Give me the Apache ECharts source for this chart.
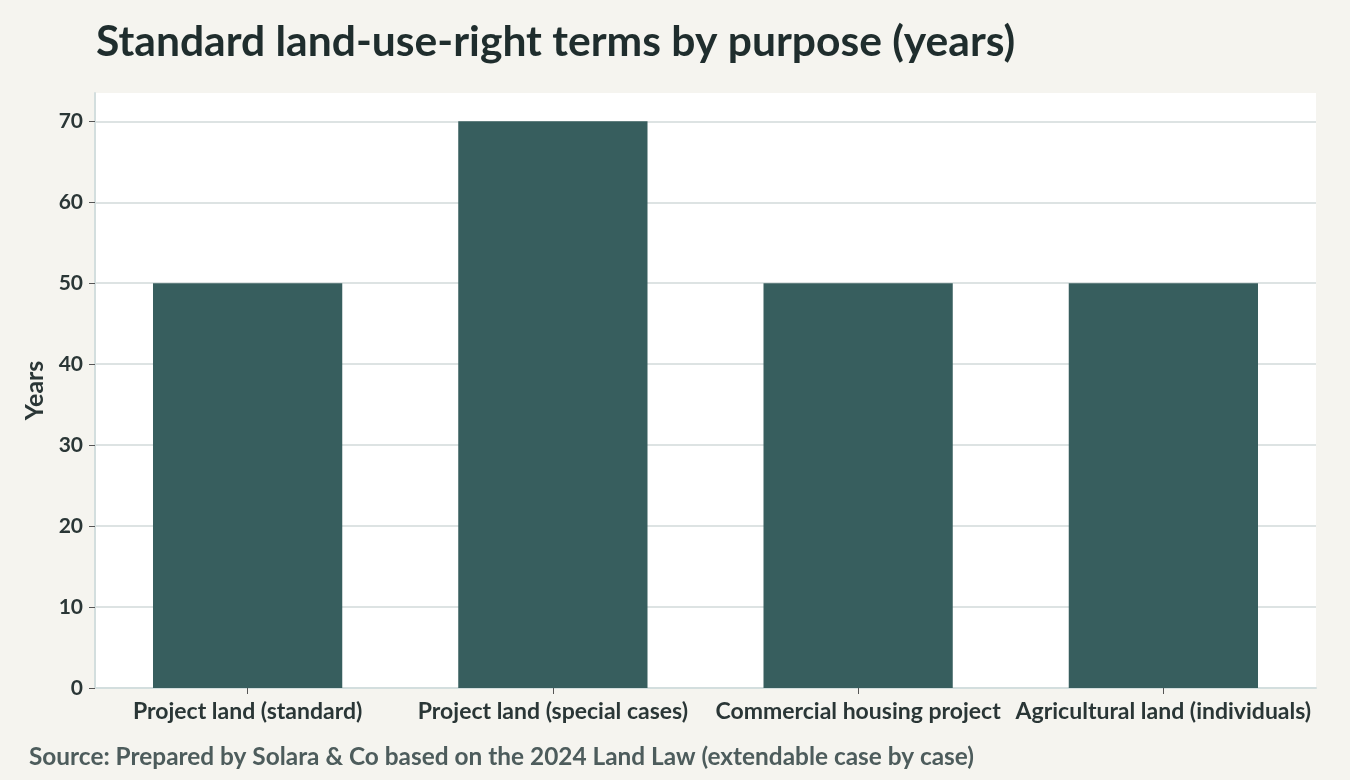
<!DOCTYPE html>
<html>
<head>
<meta charset="utf-8">
<script src="https://cdn.jsdelivr.net/npm/echarts@6/dist/echarts.min.js"></script>
<style>
  html, body { margin: 0; padding: 0; background: #f5f4ef; }
  #chart { width: 1350px; height: 780px; }
</style>
</head>
<body>
<div id="chart"></div>
<script>
// data
const categories = [
  'Project land (standard)',
  'Project land (special cases)',
  'Commercial housing project',
  'Agricultural land (individuals)'
];
const termYears = [50, 70, 50, 50];

const FONT = 'Lato, "Noto Sans", sans-serif';

let chart = echarts.init(document.getElementById('chart'));
let option = {
  backgroundColor: '#f5f4ef',
  textStyle: { fontFamily: FONT },
  title: [
    {
      text: 'Standard land-use-right terms by purpose (years)',
      left: 91,
      top: 16,
      textStyle: { fontFamily: FONT, fontSize: 42.6, fontWeight: 'bold', color: '#1f2d2d' }
    },
    {
      text: 'Source: Prepared by Solara & Co based on the 2024 Land Law (extendable case by case)',
      left: 24,
      top: 740,
      textStyle: { fontFamily: FONT, fontSize: 24.4, fontWeight: 'bold', color: '#4d5c5c' }
    }
  ],
  grid: {
    left: 95,
    right: 34,
    top: 93,
    bottom: 92,
    show: true,
    backgroundColor: '#ffffff',
    borderWidth: 0,
    borderColor: 'transparent'
  },
  xAxis: {
    type: 'category',
    data: categories,
    axisLine: { lineStyle: { color: '#d3dede', width: 2 } },
    axisTick: { show: true, alignWithLabel: true, length: 6, lineStyle: { color: '#555' } },
    axisLabel: {
      interval: 0,
      margin: 12,
      fontFamily: FONT,
      fontSize: 23,
      fontWeight: 'bold',
      color: '#2a3636'
    }
  },
  yAxis: {
    type: 'value',
    min: 0,
    max: 73.5,
    interval: 10,
    name: 'Years',
    nameLocation: 'middle',
    nameGap: 48,
    nameTextStyle: { fontFamily: FONT, fontSize: 25, fontWeight: 'bold', color: '#2a3636' },
    axisLine: { show: true, lineStyle: { color: '#d3dede', width: 2 } },
    axisTick: { show: true, length: 6, lineStyle: { color: '#555' } },
    axisLabel: {
      margin: 12,
      fontFamily: FONT,
      fontSize: 21,
      fontWeight: 'bold',
      color: '#2a3636',
      showMaxLabel: false
    },
    splitLine: { showMaxLine: false, lineStyle: { color: '#dde3e3', width: 2 } }
  },
  series: [
    {
      type: 'bar',
      data: termYears,
      barWidth: '62%',
      itemStyle: { color: '#375e5e' }
    }
  ]
};
chart.setOption(option);
</script>
</body>
</html>
